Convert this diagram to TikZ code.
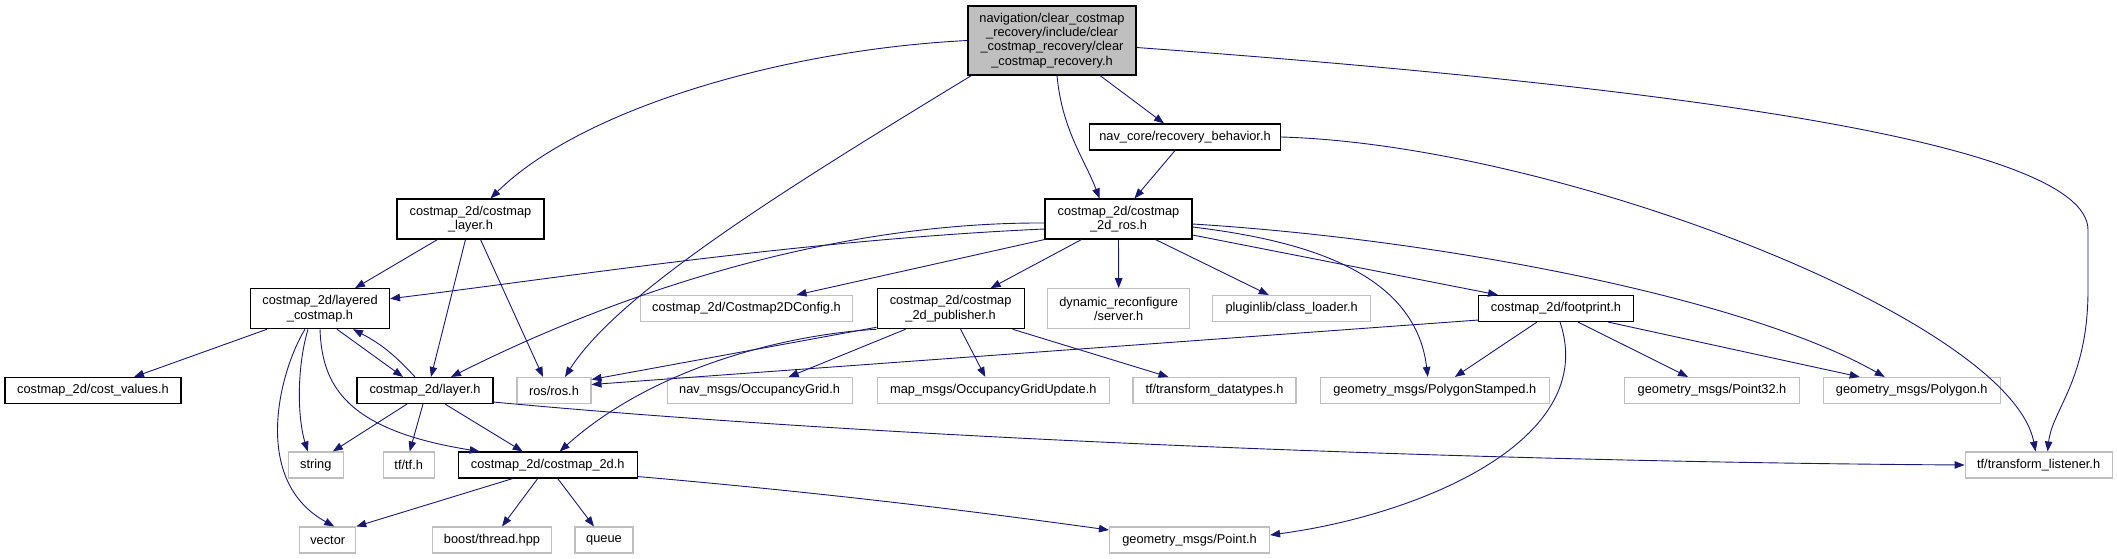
\documentclass[tikz,border=0pt]{standalone}
\usepackage{fontspec}
\setmainfont{Liberation Sans}
\usepackage{xcolor}
\usepackage{tikz}
\usetikzlibrary{arrows.meta}

\definecolor{edgeblue}{HTML}{191970}
\definecolor{sysgray}{HTML}{BFBFBF}

\begin{document}
\begin{tikzpicture}[
    x=1pt, y=-1pt,
    hdr/.style={draw=black, line width=1.1pt, fill=white, inner sep=0pt, minimum height=26pt, align=center, font=\fontsize{12.8}{14.3}\selectfont},
    sys/.style={hdr, draw=sysgray},
    rootbox/.style={hdr, fill=sysgray},
    arr/.style={-{Triangle[length=10pt,width=7.5pt]}, draw=edgeblue, line width=0.9pt}
]
\useasboundingbox (0,0) rectangle (2117,559);

\node[rootbox, minimum width=168pt, minimum height=69pt] (root) at (1052,40.5) {navigation/clear\_costmap\\\_recovery/include/clear\\\_costmap\_recovery/clear\\\_costmap\_recovery.h};
\node[hdr, minimum width=191pt] (rb) at (1185,137) {nav\_core/recovery\_behavior.h};
\node[hdr, minimum width=147pt, minimum height=40pt] (ros2d) at (1118.5,219) {costmap\_2d/costmap\\\_2d\_ros.h};
\node[hdr, minimum width=147pt, minimum height=40pt] (clayer) at (470.5,219) {costmap\_2d/costmap\\\_layer.h};

\node[hdr, minimum width=139pt, minimum height=40pt] (lcost) at (320,308.7) {costmap\_2d/layered\\\_costmap.h};
\node[sys, minimum width=212pt] (cfg) at (746.5,308.5) {costmap\_2d/Costmap2DConfig.h};
\node[hdr, minimum width=147pt, minimum height=40pt] (pub) at (950.6,308.7) {costmap\_2d/costmap\\\_2d\_publisher.h};
\node[sys, minimum width=142pt, minimum height=40pt] (dyn) at (1118.7,308.7) {dynamic\_reconfigure\\/server.h};
\node[sys, minimum width=158pt] (plug) at (1291.7,308.5) {pluginlib/class\_loader.h};
\node[hdr, minimum width=155pt] (foot) at (1556,308.5) {costmap\_2d/footprint.h};

\node[hdr, minimum width=176pt] (cval) at (93,390.5) {costmap\_2d/cost\_values.h};
\node[hdr, minimum width=136pt] (layer) at (425,390.5) {costmap\_2d/layer.h};
\node[sys, minimum width=74pt] (ros) at (554,390.5) {ros/ros.h};
\node[sys, minimum width=185pt] (occ) at (759.6,390.5) {nav\_msgs/OccupancyGrid.h};
\node[sys, minimum width=232pt] (occu) at (993.3,390.5) {map\_msgs/OccupancyGridUpdate.h};
\node[sys, minimum width=163pt] (tfdt) at (1214.5,390.5) {tf/transform\_datatypes.h};
\node[sys, minimum width=229pt] (pstamp) at (1434.8,390.5) {geometry\_msgs/PolygonStamped.h};
\node[sys, minimum width=175pt] (p32) at (1712,390.5) {geometry\_msgs/Point32.h};
\node[sys, minimum width=177pt] (poly) at (1911.7,390.5) {geometry\_msgs/Polygon.h};

\node[sys, minimum width=55pt] (str) at (315.8,465) {string};
\node[sys, minimum width=51pt] (tftf) at (408.7,465) {tf/tf.h};
\node[hdr, minimum width=179pt] (c2d) at (547.7,465) {costmap\_2d/costmap\_2d.h};
\node[sys, minimum width=147pt] (tfl) at (2038.6,465) {tf/transform\_listener.h};

\node[sys, minimum width=56pt] (vec) at (327.7,540) {vector};
\node[sys, minimum width=119pt] (boost) at (492,540) {boost/thread.hpp};
\node[sys, minimum width=58pt] (queue) at (604,540) {queue};
\node[sys, minimum width=160pt] (point) at (1189.5,540) {geometry\_msgs/Point.h};

\draw[arr] (root.west) .. controls (780,50) and (580,110) .. ([xshift=20pt]clayer.north);
\draw[arr] ([xshift=4pt]root.south west) .. controls (800,180) and (620,290) .. ([xshift=11pt]ros.north);
\draw[arr] ([xshift=5pt]root.south) .. controls (1062,130) and (1085,160) .. ([xshift=-19pt]ros2d.north);
\draw[arr] ([xshift=48pt]root.south) -- ([xshift=-21pt]rb.north);
\draw[arr] ([yshift=-7pt]root.east) .. controls (1650,85) and (2088,140) .. (2088,230) -- (2088,290) .. controls (2088,380) and (2052,410) .. ([xshift=9pt]tfl.north);
\draw[arr] ([xshift=-10pt]rb.south) -- ([xshift=16pt]ros2d.north);
\draw[arr] (rb.east) .. controls (1560,145) and (2010,320) .. ([xshift=-3pt]tfl.north);

\draw[arr] ([xshift=-33pt]clayer.south) -- ([xshift=35pt]lcost.north);
\draw[arr] ([xshift=-5pt]clayer.south) -- ([xshift=6pt]layer.north);
\draw[arr] ([xshift=10pt]clayer.south) -- ([xshift=-11pt]ros.north);

\draw[arr] ([yshift=-10pt]ros2d.west) .. controls (800,240) and (560,278) .. ([yshift=10pt]lcost.east);
\draw[arr] ([yshift=-4pt]ros2d.west) .. controls (850,222) and (640,282) .. ([xshift=26pt]layer.north);
\draw[arr] (ros2d.south west) -- ([xshift=50pt]cfg.north);
\draw[arr] ([xshift=-37pt]ros2d.south) -- ([xshift=40pt]pub.north);
\draw[arr] (ros2d.south) -- (dyn.north);
\draw[arr] ([xshift=37pt]ros2d.south) -- ([xshift=-23pt]plug.north);
\draw[arr] ([yshift=-16pt]ros2d.east) -- ([xshift=-58pt]foot.north);
\draw[arr] ([yshift=-5pt]ros2d.east) .. controls (1450,240) and (1750,300) .. ([xshift=-27pt]poly.north);
\draw[arr] ([yshift=-8pt]ros2d.east) .. controls (1300,240) and (1415,270) .. ([xshift=-7pt]pstamp.north);

\draw[arr] ([xshift=-53pt]lcost.south) -- ([xshift=41pt]cval.north);
\draw[arr] ([xshift=17pt]lcost.south) -- ([xshift=-22pt]layer.north);
\draw[arr] ([xshift=-10pt]layer.north) to[bend right=10] ([xshift=33pt]lcost.south);
\draw[arr] ([xshift=-12pt]lcost.south) .. controls (296,370) and (298,420) .. ([xshift=-8pt]str.north);
\draw[arr] ([xshift=-15pt]lcost.south) .. controls (280,370) and (250,480) .. ([xshift=-22pt]vec.north east);
\draw[arr] ([xshift=0pt]lcost.south) .. controls (322,385) and (345,430) .. ([xshift=-68pt]c2d.north);

\draw[arr] ([xshift=-18pt]layer.south) -- ([xshift=17pt]str.north);
\draw[arr] ([xshift=-2pt]layer.south) -- ([xshift=1pt]tftf.north);
\draw[arr] ([xshift=20pt]layer.south) -- ([xshift=-25pt]c2d.north);
\draw[arr] ([yshift=2pt]layer.south east) .. controls (900,440) and (1500,462) .. (tfl.west);

\draw[arr] ([yshift=2pt]pub.south west) -- ([yshift=11pt]ros.east);
\draw[arr] (pub.south west) .. controls (780,335) and (650,370) .. ([xshift=12pt]c2d.north);
\draw[arr] ([xshift=-45pt]pub.south) -- ([xshift=29pt]occ.north);
\draw[arr] ([xshift=10pt]pub.south) -- ([xshift=-8pt]occu.north);
\draw[arr] ([xshift=62pt]pub.south) -- ([xshift=-46pt]tfdt.north);

\draw[arr] ([yshift=2pt]foot.south west) -- ([yshift=6pt]ros.east);
\draw[arr] ([xshift=-19pt]foot.south) -- ([xshift=20pt]pstamp.north);
\draw[arr] ([xshift=22pt]foot.south) -- ([xshift=-24pt]p32.north);
\draw[arr] ([xshift=52pt]foot.south) -- ([xshift=-52pt]poly.north);
\draw[arr] ([xshift=4pt]foot.south) .. controls (1600,440) and (1420,515) .. ([yshift=5pt]point.east);

\draw[arr] ([xshift=-35pt]c2d.south) -- (vec.north east);
\draw[arr] ([xshift=-10pt]c2d.south) -- ([xshift=10pt]boost.north);
\draw[arr] ([xshift=10pt]c2d.south) -- ([xshift=-10pt]queue.north);
\draw[arr] ([yshift=2pt]c2d.south east) .. controls (850,495) and (1000,515) .. ([yshift=10pt]point.west);
\end{tikzpicture}
\end{document}
